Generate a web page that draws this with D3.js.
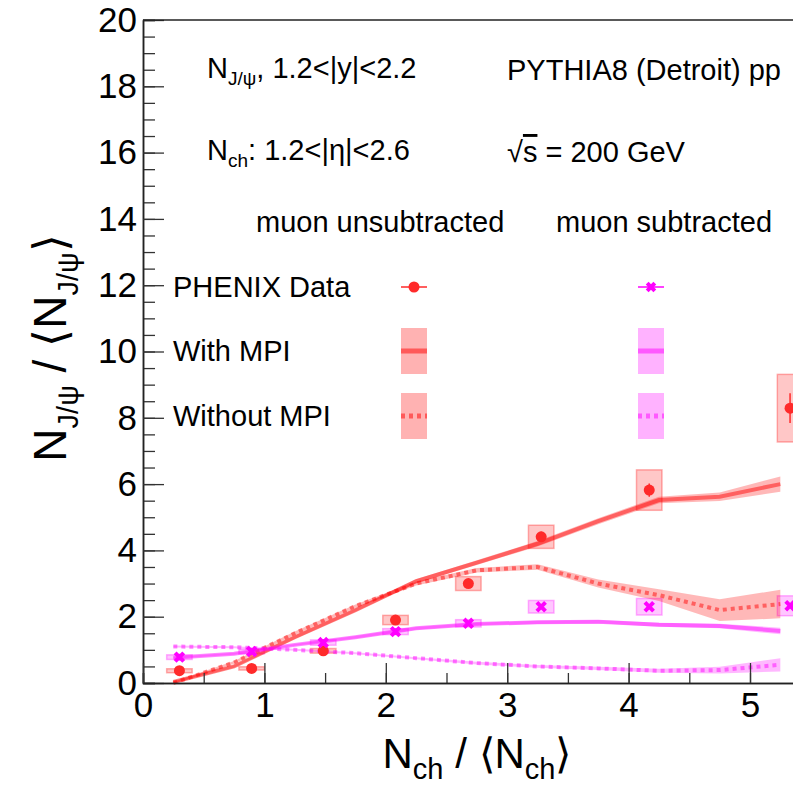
<!DOCTYPE html>
<html>
<head>
<meta charset="utf-8">
<script src="https://cdn.jsdelivr.net/npm/d3@7"></script>
<style>
  body { margin: 0; background: #fff; }
  svg { display: block; font-family: "Liberation Sans", Arial, Helvetica, sans-serif; }
</style>
</head>
<body>
<div id="chart"></div>
<script>
// PHENIX points (x shared by both selections)
const dataX = [0.30, 0.895, 1.485, 2.08, 2.68, 3.28, 4.17, 5.33];
const unsubY = [0.37, 0.44, 0.97, 1.90, 3.0, 4.41, 5.82, 8.29];
const unsubStat = [0.05, 0.05, 0.06, 0.1, 0.12, 0.15, 0.2, 0.45];
const unsubSys = [0.06, 0.05, 0.07, 0.14, 0.21, 0.35, 0.61, 1.02];
const subY = [0.78, 0.95, 1.22, 1.55, 1.80, 2.30, 2.30, 2.33];
const subStat = [0.1, 0.1, 0.1, 0.1, 0.08, 0.06, 0.06, 0.08];
const subSys = [0.07, 0.07, 0.08, 0.09, 0.11, 0.19, 0.25, 0.30];
const sysHalfWidth = 0.105;

// PYTHIA8 curves
const modelX = [0.25, 0.75, 1.25, 1.75, 2.25, 2.75, 3.25, 3.75, 4.25, 4.75, 5.25];
const unsubMpi = [0.03, 0.5, 1.38, 2.2, 3.07, 3.63, 4.2, 4.88, 5.52, 5.62, 6.0];
const unsubMpiErr = [0.04, 0.04, 0.05, 0.05, 0.06, 0.07, 0.08, 0.09, 0.1, 0.13, 0.23];
const unsubNoMpi = [0.0, 0.62, 1.5, 2.32, 3.0, 3.4, 3.5, 3.0, 2.65, 2.2, 2.38];
const unsubNoMpiErr = [0.04, 0.04, 0.05, 0.05, 0.06, 0.07, 0.08, 0.12, 0.18, 0.33, 0.43];
const subMpi = [0.76, 0.88, 1.15, 1.38, 1.65, 1.78, 1.83, 1.85, 1.76, 1.72, 1.57];
const subMpiErr = [0.03, 0.03, 0.03, 0.04, 0.04, 0.04, 0.05, 0.05, 0.06, 0.07, 0.1];
const subNoMpi = [1.1, 1.08, 1.0, 0.9, 0.75, 0.6, 0.5, 0.44, 0.37, 0.39, 0.55];
const subNoMpiErr = [0.03, 0.03, 0.03, 0.03, 0.03, 0.04, 0.04, 0.05, 0.06, 0.1, 0.2];

// ticks and labels
const yMajor = [0, 2, 4, 6, 8, 10, 12, 14, 16, 18, 20];
const yMinor = d3.range(0, 20.01, 0.5);
const xMajor = [0, 1, 2, 3, 4, 5];
const xMinor = d3.range(0, 5.5, 0.5);
const legendRows = ["PHENIX Data", "With MPI", "Without MPI"];
const legendCols = ["muon unsubtracted", "muon subtracted"];

const W = 793, H = 790;
const red = "255,0,0", mag = "255,0,255";

const svg = d3.select('#chart').append('svg')
  .attr('width', W).attr('height', H);

const x = d3.scaleLinear().domain([0, 5.4]).range([143, 143 + 5.4 * 121.4]);
const y = d3.scaleLinear().domain([0, 20]).range([683, 20]);

const plot = svg.append('g');

// systematic boxes
function sysBoxes(vals, sys, col) {
  plot.append('g').selectAll('rect')
    .data(dataX.map((d, i) => ({ x: d, y: vals[i], e: sys[i] })))
    .join('rect')
      .attr('x', d => x(d.x - sysHalfWidth))
      .attr('width', d => x(d.x + sysHalfWidth) - x(d.x - sysHalfWidth))
      .attr('y', d => y(d.y + d.e))
      .attr('height', d => y(d.y - d.e) - y(d.y + d.e))
      .attr('fill', `rgba(${col},0.22)`)
      .attr('stroke', `rgba(${col},0.3)`)
      .attr('stroke-width', 1.5);
}
sysBoxes(unsubY, unsubSys, red);
sysBoxes(subY, subSys, mag);

// model bands + lines
function model(vals, errs, col, dashed) {
  const pts = modelX.map((d, i) => ({ x: d, y: vals[i], e: errs[i] }));
  plot.append('path').datum(pts)
    .attr('d', d3.area().x(d => x(d.x)).y0(d => y(d.y - d.e)).y1(d => y(d.y + d.e)))
    .attr('fill', `rgba(${col},0.28)`);
  plot.append('path').datum(pts)
    .attr('d', d3.line().x(d => x(d.x)).y(d => y(d.y)))
    .attr('fill', 'none')
    .attr('stroke', `rgba(${col},0.48)`)
    .attr('stroke-width', 4)
    .attr('stroke-dasharray', dashed ? '4,4' : null);
}
model(unsubMpi, unsubMpiErr, red, false);
model(unsubNoMpi, unsubNoMpiErr, red, true);
model(subMpi, subMpiErr, mag, false);
model(subNoMpi, subNoMpiErr, mag, true);

// data markers
function markers(vals, stat, color, shape) {
  const pts = dataX.map((d, i) => ({ x: d, y: vals[i], e: stat[i] }));
  const g = plot.append('g');
  g.selectAll('line').data(pts).join('line')
    .attr('x1', d => x(d.x)).attr('x2', d => x(d.x))
    .attr('y1', d => y(d.y - d.e)).attr('y2', d => y(d.y + d.e))
    .attr('stroke', color).attr('stroke-width', 1.5);
  if (shape === 'circle') {
    g.selectAll('circle').data(pts).join('circle')
      .attr('cx', d => x(d.x)).attr('cy', d => y(d.y)).attr('r', 5.5)
      .attr('fill', color);
  } else {
    g.selectAll('path').data(pts).join('path')
      .attr('transform', d => `translate(${x(d.x)},${y(d.y)})`)
      .attr('d', d3.symbol(d3.symbolX, 50))
      .attr('fill', 'none').attr('stroke', color).attr('stroke-width', 4);
  }
}
markers(unsubY, unsubStat, '#ff2a2a', 'circle');
markers(subY, subStat, '#ff00ff', 'x');

// axes
const axG = svg.append('g').style('font-family', '"Liberation Sans", Arial, sans-serif');
axG.append('g').attr('transform', 'translate(143,0)')
  .call(d3.axisLeft(y).tickValues(yMinor).tickSize(-12).tickFormat(''));
axG.append('g').attr('transform', 'translate(143,0)')
  .call(d3.axisLeft(y).tickValues(yMajor).tickSize(-21).tickSizeOuter(0).tickPadding(6).tickFormat(d3.format('d')));
axG.append('g').attr('transform', 'translate(0,683)')
  .call(d3.axisBottom(x).tickValues(xMinor).tickSize(-10).tickFormat(''));
axG.append('g').attr('transform', 'translate(0,683)')
  .call(d3.axisBottom(x).tickValues(xMajor).tickSize(-20).tickSizeOuter(0).tickPadding(9).tickFormat(d3.format('d')));
axG.selectAll('.tick line').attr('stroke', '#333').attr('stroke-width', 1.3);
axG.selectAll('.domain').attr('stroke', '#222').attr('stroke-width', 1.5);
axG.selectAll('.tick text').attr('font-size', 35).attr('fill', '#000');
svg.append('line').attr('x1', 143).attr('x2', W).attr('y1', y(20)).attr('y2', y(20))
  .attr('stroke', '#222').attr('stroke-width', 1.5);

// axis titles
const xt = svg.append('text').attr('x', 477).attr('y', 768)
  .attr('text-anchor', 'middle').attr('font-size', 42);
xt.append('tspan').text('N');
xt.append('tspan').attr('font-size', 29).attr('dy', 11).text('ch');
xt.append('tspan').attr('dy', -11).text(' / \u27E8N');
xt.append('tspan').attr('font-size', 29).attr('dy', 11).text('ch');
xt.append('tspan').attr('dy', -11).text('\u27E9');

const yt = svg.append('text').attr('transform', 'translate(66,348) rotate(-90)')
  .attr('text-anchor', 'middle').attr('font-size', 46);
yt.append('tspan').text('N');
yt.append('tspan').attr('font-size', 29).attr('dy', 12).text('J/\u03C8');
yt.append('tspan').attr('dy', -12).text(' / \u27E8N');
yt.append('tspan').attr('font-size', 29).attr('dy', 12).text('J/\u03C8');
yt.append('tspan').attr('dy', -12).text('\u27E9');

// annotations
const fs = 29;
const t1 = svg.append('text').attr('x', 207).attr('y', 78).attr('font-size', fs);
t1.append('tspan').text('N');
t1.append('tspan').attr('font-size', 19).attr('dy', 7).text('J/\u03C8');
t1.append('tspan').attr('dy', -7).text(', 1.2<|y|<2.2');
const t2 = svg.append('text').attr('x', 207).attr('y', 160).attr('font-size', fs);
t2.append('tspan').text('N');
t2.append('tspan').attr('font-size', 19).attr('dy', 7).text('ch');
t2.append('tspan').attr('dy', -7).text(': 1.2<|\u03B7|<2.6');
svg.append('text').attr('x', 507).attr('y', 80).attr('font-size', fs).text('PYTHIA8 (Detroit) pp');
const t4 = svg.append('text').attr('x', 507).attr('y', 162).attr('font-size', fs);
t4.append('tspan').text('\u221A');
t4.append('tspan').style('text-decoration', 'overline').text('s');
t4.append('tspan').text(' = 200 GeV');

svg.append('text').attr('x', 256).attr('y', 232).attr('font-size', fs).text(legendCols[0]);
svg.append('text').attr('x', 556).attr('y', 232).attr('font-size', fs).text(legendCols[1]);

const rowY = [287, 351, 416];
legendRows.forEach((t, i) => {
  svg.append('text').attr('x', 173).attr('y', rowY[i] + 10).attr('font-size', fs).text(t);
});

// legend symbols
[[401, red, '#ff2a2a', 'circle'], [638, mag, '#ff00ff', 'x']].forEach(([lx, col, solid, shape]) => {
  const g = svg.append('g');
  g.append('line').attr('x1', lx).attr('x2', lx + 26).attr('y1', rowY[0]).attr('y2', rowY[0])
    .attr('stroke', solid).attr('stroke-width', 1.5);
  if (shape === 'circle') {
    g.append('circle').attr('cx', lx + 13).attr('cy', rowY[0]).attr('r', 5.5).attr('fill', solid);
  } else {
    g.append('path').attr('transform', `translate(${lx + 13},${rowY[0]})`)
      .attr('d', d3.symbol(d3.symbolX, 40)).attr('fill', 'none').attr('stroke', solid).attr('stroke-width', 4);
  }
  [1, 2].forEach(r => {
    g.append('rect').attr('x', lx).attr('y', rowY[r] - 23).attr('width', 26).attr('height', 46)
      .attr('fill', `rgba(${col},0.3)`);
    g.append('line').attr('x1', lx).attr('x2', lx + 26).attr('y1', rowY[r]).attr('y2', rowY[r])
      .attr('stroke', `rgba(${col},0.5)`).attr('stroke-width', 5)
      .attr('stroke-dasharray', r === 2 ? '4,4' : null);
  });
});
</script>
</body>
</html>
